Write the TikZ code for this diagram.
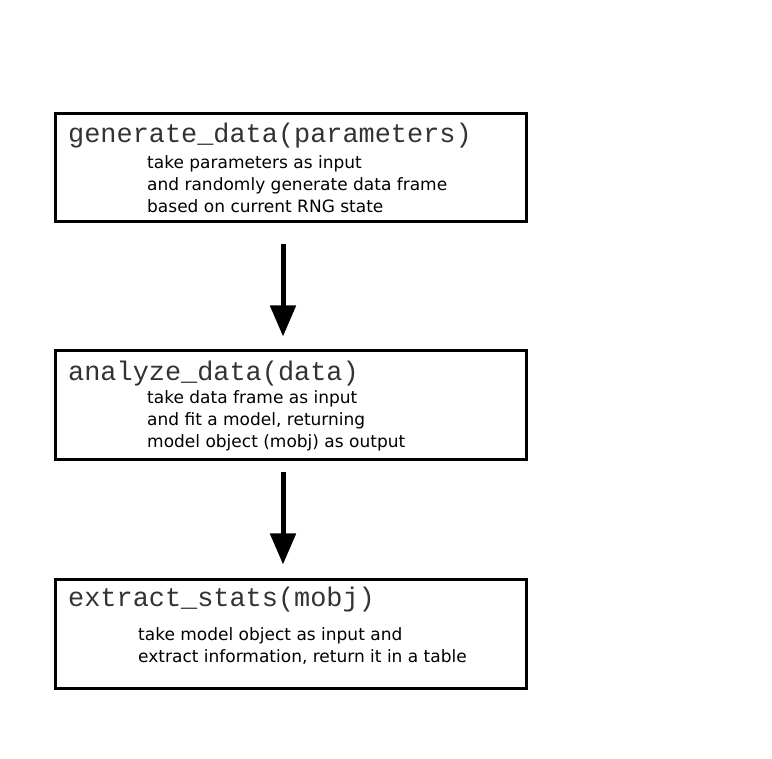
\documentclass[tikz,border=0pt]{standalone}
\usepackage{fontspec}
\setmainfont{DejaVu Sans}
\newfontfamily\codefont{Liberation Mono}
\usetikzlibrary{arrows.meta}
\begin{document}
\begin{tikzpicture}[x=1pt,y=-1pt,
  stagebox/.style={draw=black, line width=3pt, rectangle, minimum width=471pt, inner sep=0pt},
  fname/.style={anchor=base west, inner sep=0pt, text=black!80, font=\codefont\fontsize{26.9}{30}\selectfont},
  desc/.style={anchor=base west, inner sep=0pt, align=left, font=\fontsize{17}{22}\selectfont},
  flow/.style={line width=5pt, -{Triangle[length=31pt,width=25pt]}}]
  \useasboundingbox (0,0) rectangle (772,759);
  % the three stages
  \node[stagebox, minimum height=108pt] (gen) at (290.5,168) {};
  \node[stagebox, minimum height=109pt] (ana) at (290.5,405.5) {};
  \node[stagebox, minimum height=109pt] (ext) at (290.5,633.5) {};
  % function names
  \node[fname] (genT) at (68,143) {generate\_data(parameters)};
  \node[fname] (anaT) at (68,381) {analyze\_data(data)};
  \node[fname] (extT) at (68,606) {extract\_stats(mobj)};
  % descriptions (placed by the baseline of their last line)
  \node[desc] (genD) at (147,213) {take parameters as input\\and randomly generate data frame\\based on current RNG state};
  \node[desc] (anaD) at (147,448) {take data frame as input\\and fit a model, returning\\model object (mobj) as output};
  \node[desc] (extD) at (138,662) {take model object as input and\\extract information, return it in a table};
  % flow between stages
  \draw[flow, shorten <=21pt, shorten >=13pt] ([xshift=-7.5pt]gen.south) -- ([xshift=-7.5pt]ana.north);
  \draw[flow, shorten <=11pt, shorten >=13pt] ([xshift=-7.5pt]ana.south) -- ([xshift=-7.5pt]ext.north);
\end{tikzpicture}
\end{document}
